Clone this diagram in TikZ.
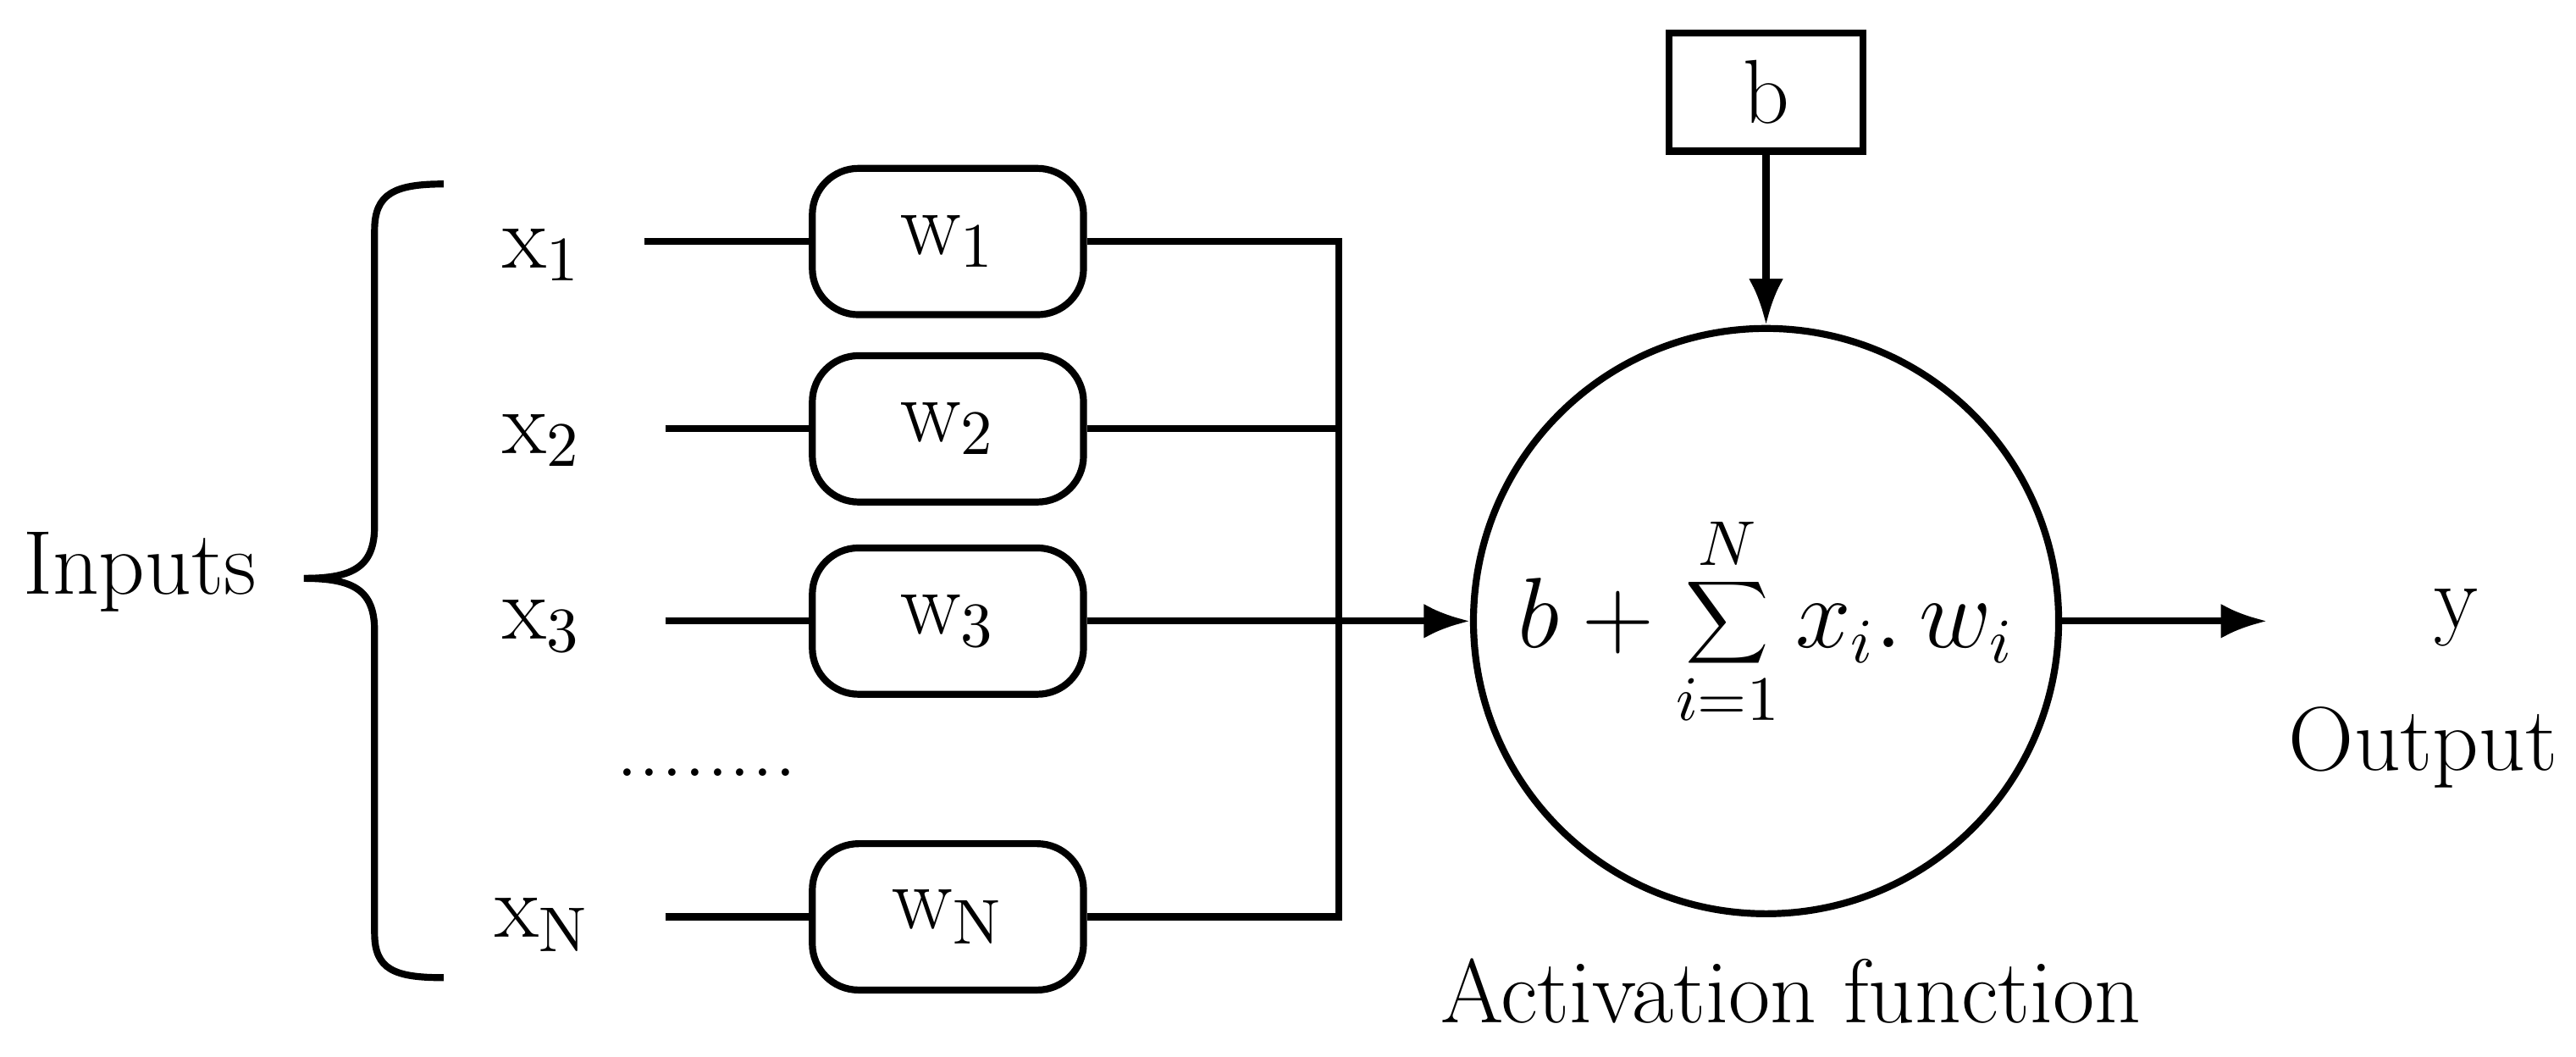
\documentclass[tikz,border=0pt]{standalone}
\usetikzlibrary{arrows.meta}
\begin{document}
\begin{tikzpicture}[x=0.01cm,y=-0.01cm,line width=1.2pt,
  wbox/.style={draw,rounded corners=8pt,minimum width=1.65cm,minimum height=0.89cm,inner sep=0pt},
  lab/.style={font=\fontsize{15.7}{19}\selectfont},
  arr/.style={-{Latex[length=8pt,width=6pt]}}]
\useasboundingbox (0,0) rectangle (1568,643);
\node[lab] (in) at (85,348) {Inputs};
\draw (185,352) .. controls (215,352) and (228,345) .. (228,320) -- (228,140) .. controls (228,118) and (240,112) .. (270,112);
\draw (185,352) .. controls (215,352) and (228,359) .. (228,384) -- (228,568) .. controls (228,590) and (240,595) .. (270,595);
\node[lab] (x1) at (330,155) {x$_1$};
\node[lab] (x2) at (330,268) {x$_2$};
\node[lab] (x3) at (330,381) {x$_3$};
\node[lab] (xN) at (330,563) {x$_\mathrm{N}$};
\node[lab] (dots) at (430,470) {........};
\node[wbox,lab] (w1) at (577,147) {w$_1$};
\node[wbox,lab] (w2) at (577,261) {w$_2$};
\node[wbox,lab] (w3) at (577,378) {w$_3$};
\node[wbox,lab] (wN) at (577,558) {w$_\mathrm{N}$};
\coordinate (a1) at (392,147); \coordinate (a2) at (405,261);
\coordinate (a3) at (405,378); \coordinate (aN) at (405,558);
\draw (a1) -- (w1.west); \draw (a2) -- (w2.west); \draw (a3) -- (w3.west); \draw (aN) -- (wN.west);
\coordinate (t) at (815,147); \coordinate (bt) at (815,558);
\draw (w1.east) -- (t) -- (bt) -- (wN.east);
\draw (w2.east) -- (815,261);
\node[draw,circle,minimum size=3.56cm,inner sep=0pt,font=\fontsize{16}{19}\selectfont] (c) at (1075,378) {$\displaystyle b+\sum_{i=1}^{N}x_i.\,w_i$};
\draw[arr] (w3.east) -- (c.west);
\node[draw,lab,minimum width=1.18cm,minimum height=0.72cm,inner sep=0pt] (b) at (1075,56) {b};
\draw[arr] (b.south) -- (c.north);
\coordinate (o) at (1380,378);
\draw[arr] (c.east) -- (o);
\node[lab] (y) at (1495,376) {y};
\node[lab] (out) at (1475,455) {Output};
\node[lab] (act) at (1090,603) {Activation function};
\end{tikzpicture}
\end{document}
